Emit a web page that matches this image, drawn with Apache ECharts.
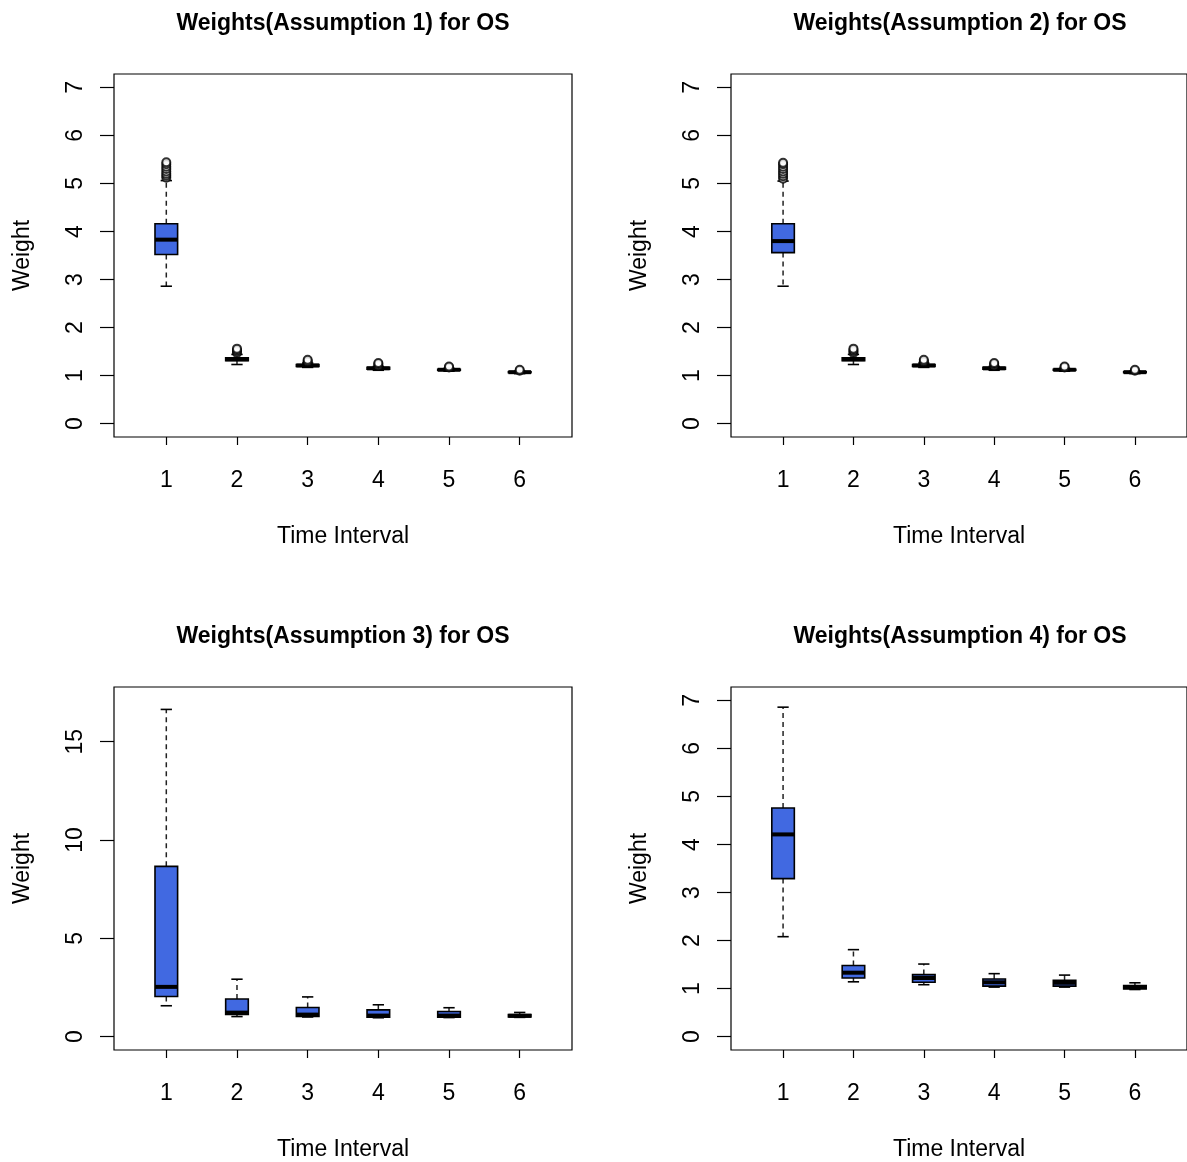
<!DOCTYPE html>
<html><head><meta charset="utf-8">
<script src="https://cdn.jsdelivr.net/npm/echarts@6/dist/echarts.min.js"></script>
<style>html,body{margin:0;padding:0;background:#fff}#c{width:1187px;height:1162px}</style>
</head><body><div id="c"></div>
<script>
const categories = [1, 2, 3, 4, 5, 6];
const titles = ['Weights(Assumption 1) for OS', 'Weights(Assumption 2) for OS', 'Weights(Assumption 3) for OS', 'Weights(Assumption 4) for OS'];
const xTickLabels = [1, 2, 3, 4, 5, 6];
const yTicksA = [0, 1, 2, 3, 4, 5, 6, 7];
const yTicksB = [0, 5, 10, 15];
const xLabel = 'Time Interval';
const yLabel = 'Weight';

// [lower whisker, Q1, median, Q3, upper whisker] per time interval
const a1Stats = [
  [2.86, 3.52, 3.83, 4.16, 5.06],
  [1.23, 1.31, 1.34, 1.37, 1.44],
  [1.17, 1.19, 1.21, 1.23, 1.26],
  [1.11, 1.13, 1.15, 1.17, 1.19],
  [1.09, 1.11, 1.12, 1.13, 1.15],
  [1.04, 1.06, 1.07, 1.08, 1.09]
];
const a1Outliers = [
  [1, 5.12], [1, 5.16], [1, 5.2], [1, 5.25], [1, 5.3], [1, 5.35], [1, 5.4], [1, 5.44],
  [2, 1.47], [2, 1.5], [2, 1.53], [2, 1.56],
  [3, 1.28], [3, 1.3], [3, 1.33],
  [4, 1.21], [4, 1.24], [4, 1.26],
  [5, 1.17], [5, 1.19],
  [6, 1.1], [6, 1.12]
];
const a2Stats = [
  [2.86, 3.56, 3.8, 4.16, 5.05],
  [1.23, 1.31, 1.34, 1.37, 1.44],
  [1.17, 1.19, 1.21, 1.23, 1.26],
  [1.11, 1.13, 1.15, 1.17, 1.19],
  [1.09, 1.11, 1.12, 1.13, 1.15],
  [1.04, 1.06, 1.07, 1.08, 1.09]
];
const a2Outliers = [
  [1, 5.1], [1, 5.15], [1, 5.2], [1, 5.25], [1, 5.3], [1, 5.35], [1, 5.4], [1, 5.43],
  [2, 1.47], [2, 1.5], [2, 1.53], [2, 1.56],
  [3, 1.28], [3, 1.3], [3, 1.33],
  [4, 1.21], [4, 1.24], [4, 1.26],
  [5, 1.17], [5, 1.19],
  [6, 1.1], [6, 1.12]
];
const a3Stats = [
  [1.57, 2.04, 2.53, 8.66, 16.64],
  [1.02, 1.13, 1.22, 1.91, 2.92],
  [1.0, 1.03, 1.12, 1.48, 2.02],
  [0.96, 0.99, 1.07, 1.36, 1.62],
  [0.97, 0.99, 1.07, 1.28, 1.47],
  [0.98, 1.0, 1.06, 1.12, 1.23]
];
const a3Outliers = [];
const a4Stats = [
  [2.08, 3.29, 4.21, 4.76, 6.86],
  [1.14, 1.22, 1.33, 1.48, 1.81],
  [1.08, 1.13, 1.22, 1.29, 1.51],
  [1.03, 1.05, 1.13, 1.2, 1.31],
  [1.03, 1.05, 1.12, 1.17, 1.28],
  [0.98, 0.99, 1.03, 1.06, 1.12]
];
const a4Outliers = [];

const BOX_WEX = 0.32;
const FONT = 'Liberation Sans, Arial, Helvetica, sans-serif';

function renderBox(params, api) {
  const x = api.value(0);
  const lo = api.coord([x, api.value(1)]);
  const q1 = api.coord([x, api.value(2)]);
  const md = api.coord([x, api.value(3)]);
  const q3 = api.coord([x, api.value(4)]);
  const hi = api.coord([x, api.value(5)]);
  const w = api.size([BOX_WEX, 0])[0];
  const cx = lo[0];
  const cw = w / 4;
  const dash = {stroke: '#222', lineWidth: 1.5, lineDash: [5, 4]};
  const solid = {stroke: '#000', lineWidth: 1.6};
  return {type: 'group', children: [
    {type: 'line', shape: {x1: cx, y1: q3[1], x2: cx, y2: hi[1]}, style: dash},
    {type: 'line', shape: {x1: cx, y1: q1[1], x2: cx, y2: lo[1]}, style: dash},
    {type: 'line', shape: {x1: cx - cw, y1: hi[1], x2: cx + cw, y2: hi[1]}, style: solid},
    {type: 'line', shape: {x1: cx - cw, y1: lo[1], x2: cx + cw, y2: lo[1]}, style: solid},
    {type: 'rect', shape: {x: cx - w / 2, y: q3[1], width: w, height: q1[1] - q3[1]},
      style: {fill: '#4169E1', stroke: '#000', lineWidth: 1.6}},
    {type: 'line', shape: {x1: cx - w / 2, y1: md[1], x2: cx + w / 2, y2: md[1]},
      style: {stroke: '#000', lineWidth: 4}}
  ]};
}

const panels = [
  {stats: a1Stats, out: a1Outliers, left: 114, top: 74, ymin: -0.28, ymax: 7.28, ticks: yTicksA},
  {stats: a2Stats, out: a2Outliers, left: 731, top: 74, ymin: -0.28, ymax: 7.28, ticks: yTicksA},
  {stats: a3Stats, out: a3Outliers, left: 114, top: 687, ymin: -0.68, ymax: 17.78, ticks: yTicksB},
  {stats: a4Stats, out: a4Outliers, left: 731, top: 687, ymin: -0.28, ymax: 7.28, ticks: yTicksA}
];
const GW = 458, GH = 363;

const grid = [], xAxis = [], yAxis = [], series = [], title = [];
panels.forEach((p, i) => {
  grid.push({left: p.left, top: p.top, width: GW, height: GH, show: true,
    borderColor: '#000', borderWidth: 1.2, backgroundColor: 'transparent'});
  title.push({text: titles[i], left: p.left + GW / 2 - 5, top: p.top - 67, textAlign: 'center',
    textStyle: {fontFamily: FONT, fontSize: 23, fontWeight: 'bold', color: '#000'}});
  xAxis.push({type: 'value', gridIndex: i, min: 0.26, max: 6.74,
    axisLine: {show: false, onZero: false}, splitLine: {show: false},
    axisTick: {show: true, customValues: xTickLabels, length: 8, lineStyle: {color: '#000', width: 1.2}},
    axisLabel: {customValues: xTickLabels, fontFamily: FONT, fontSize: 23, color: '#000', margin: 32},
    name: xLabel, nameLocation: 'middle', nameGap: 88,
    nameTextStyle: {fontFamily: FONT, fontSize: 23, color: '#000'}});
  yAxis.push({type: 'value', gridIndex: i, min: p.ymin, max: p.ymax,
    axisLine: {show: false, onZero: false}, splitLine: {show: false},
    axisTick: {show: true, customValues: p.ticks, length: 14, lineStyle: {color: '#000', width: 1.2}},
    axisLabel: {customValues: p.ticks, rotate: 90, fontFamily: FONT, fontSize: 23, color: '#000', margin: 27},
    name: yLabel, nameLocation: 'middle', nameGap: 80, nameRotate: 90,
    nameTextStyle: {fontFamily: FONT, fontSize: 23, color: '#000'}});
  series.push({type: 'custom', xAxisIndex: i, yAxisIndex: i, renderItem: renderBox,
    encode: {x: 0, y: [1, 2, 3, 4, 5]},
    data: p.stats.map((s, k) => [categories[k]].concat(s)), silent: true});
  series.push({type: 'scatter', xAxisIndex: i, yAxisIndex: i, data: p.out,
    symbol: 'emptyCircle', symbolSize: 8, itemStyle: {color: '#000', borderWidth: 1.5}, silent: true, z: 3});
});

const chart = echarts.init(document.getElementById('c'), null, {renderer: 'canvas'});
chart.setOption({animation: false, backgroundColor: '#fff', title, grid, xAxis, yAxis, series});
</script>
</body></html>
